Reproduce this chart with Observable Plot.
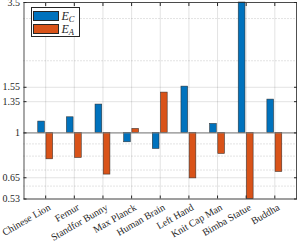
<!DOCTYPE html>
<html><head><meta charset="utf-8">
<script src="https://cdn.jsdelivr.net/npm/d3@7"></script>
<script src="https://cdn.jsdelivr.net/npm/@observablehq/plot@0.6"></script>
<style>
body{margin:0;background:#fff;}
#wrap{position:relative;width:297px;height:245px;font-family:"Liberation Serif","Times New Roman",serif;}
#wrap svg{display:block;}
.legend{position:absolute;left:30.5px;top:7px;width:49px;height:30px;border:1px solid #262626;background:#fff;box-sizing:border-box;}
.item{position:absolute;left:1.5px;width:26px;height:9.5px;border:1px solid #262626;box-sizing:border-box;}
.lab{position:absolute;left:30px;font-style:italic;font-size:12px;line-height:12px;color:#262626;}
.lab sub{font-size:8.5px;vertical-align:-2px;}
</style></head>
<body>
<div id="wrap"></div>
<script>
const categories = ["Chinese Lion","Femur","Standfor Bunny","Max Planck","Human Brain","Left Hand","Knit Cap Man","Bimba Statue","Buddha"];
const seriesNames = ["C","A"];
const ecValues = [1.115,1.162,1.313,0.914,0.857,1.56,1.09,3.5,1.377];
const eaValues = [0.776,0.786,0.67,1.039,1.473,0.646,0.817,0.53,0.687];
const yTicks = [0.53,0.65,1,1.35,1.55,3.5];
const yMinor = [0.6,0.7,0.8,0.9,2,3];
const colors = ["#0072BD","#D95319"];

const idx = d3.range(1, categories.length + 1);
const data = [];
categories.forEach((c, i) => {
  data.push({i: i + 1, s: 0, v: ecValues[i]});
  data.push({i: i + 1, s: 1, v: eaValues[i]});
});
const off = 0.143, bw = 0.234;
const ink = "#262626";

const chart = Plot.plot({
  width: 297, height: 245,
  marginLeft: 23.5, marginRight: 1, marginTop: 2, marginBottom: 46.5,
  x: {type: "linear", domain: [0.243, 9.757], axis: null},
  y: {type: "log", domain: [0.53, 3.5], axis: null},
  style: {fontFamily: '"Liberation Serif","Times New Roman",serif', fontSize: "10px", background: "white", color: ink},
  marks: [
    Plot.gridY(yMinor, {stroke: ink, strokeOpacity: 0.25, strokeDasharray: "1,2"}),
    Plot.gridY(yTicks, {stroke: ink, strokeOpacity: 0.13}),
    Plot.gridX(idx, {stroke: ink, strokeOpacity: 0.13}),
    Plot.rect(data, {
      x1: d => d.i + (d.s === 0 ? -off : off) - bw / 2,
      x2: d => d.i + (d.s === 0 ? -off : off) + bw / 2,
      y1: () => 1, y2: d => d.v,
      fill: d => colors[d.s], stroke: ink, strokeWidth: 0.6, strokeOpacity: 0.85
    }),
    Plot.ruleY([1], {stroke: "#7a7a7a", strokeWidth: 1}),
    Plot.frame({stroke: ink, strokeWidth: 0.8}),
    Plot.axisY(yTicks, {anchor: "left", tickSize: 3, dx: 3, tickFormat: () => "", label: null, stroke: ink}),
    Plot.axisY(yTicks, {anchor: "right", tickSize: 3, dx: -3, tickFormat: () => "", label: null, stroke: ink}),
    Plot.axisX(idx, {anchor: "bottom", tickSize: 3, dy: -3, tickFormat: () => "", label: null, stroke: ink}),
    Plot.axisX(idx, {anchor: "top", tickSize: 3, dy: 3, tickFormat: () => "", label: null, stroke: ink}),
    Plot.axisY(yTicks, {anchor: "left", tickSize: 0, tickPadding: 4, tickFormat: d => String(d), label: null, fill: ink}),
    Plot.axisX(idx, {anchor: "bottom", tickSize: 0, tickPadding: 3, dx: 2, dy: 1, tickRotate: -30, textAnchor: "end", lineAnchor: "top", tickFormat: i => categories[i - 1], label: null, fill: ink})
  ]
});
const wrap = document.getElementById("wrap");
wrap.appendChild(chart);

const leg = document.createElement("div");
leg.className = "legend";
seriesNames.forEach((s, k) => {
  const sw = document.createElement("div");
  sw.className = "item";
  sw.style.top = (3 + k * 13.3) + "px";
  sw.style.background = colors[k];
  leg.appendChild(sw);
  const lb = document.createElement("div");
  lb.className = "lab";
  lb.style.top = (1.5 + k * 13.3) + "px";
  lb.innerHTML = "E<sub>" + s + "</sub>";
  leg.appendChild(lb);
});
wrap.appendChild(leg);
</script>
</body></html>
